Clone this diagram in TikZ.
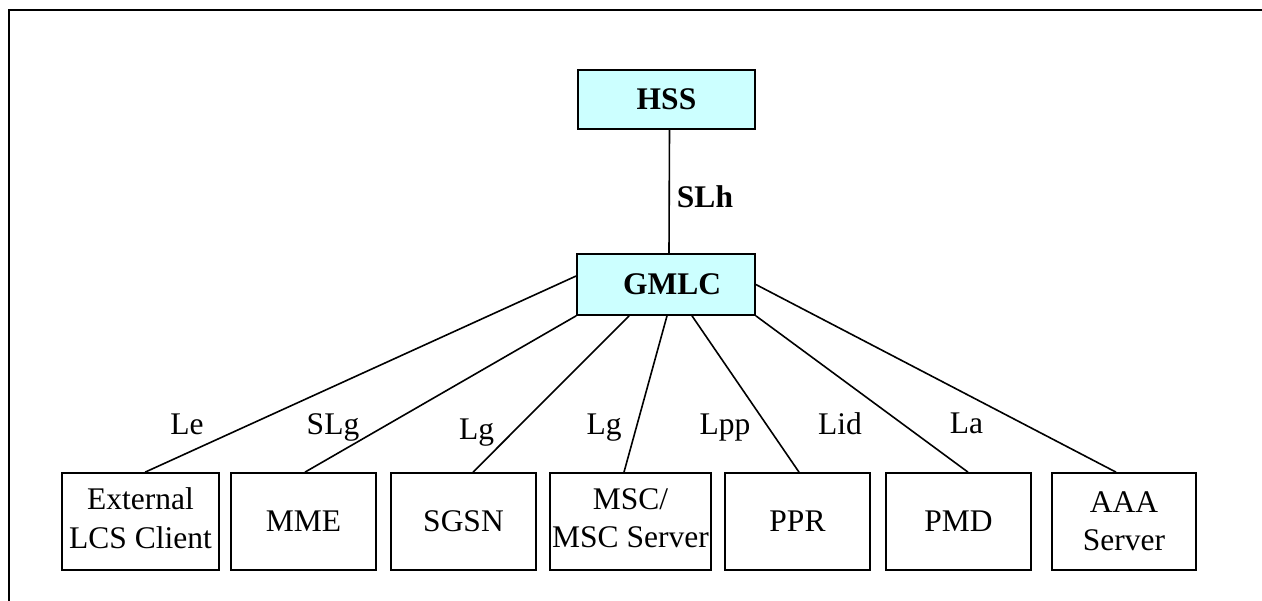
\documentclass[tikz,border=0pt]{standalone}
\usepackage{fontspec}
\setmainfont{Liberation Serif}
\definecolor{boxcyan}{HTML}{CCFFFF}
\begin{document}
\begin{tikzpicture}[x=1pt,y=-1pt,
  every node/.style={font=\fontsize{31.5}{38.5}\selectfont},
  netbox/.style={draw,line width=1.7pt,inner sep=0pt,align=center,minimum height=97pt},
  corebox/.style={draw,line width=1.7pt,inner sep=0pt,fill=boxcyan,font=\fontsize{31.5}{38}\selectfont\bfseries},
  link/.style={line width=1.6pt},
  lbl/.style={anchor=base,inner sep=0pt}]
\useasboundingbox (0,0) rectangle (1262,601);
\draw[line width=1.8pt] (9,601) -- (9,10) -- (1262,10);
\node[corebox,minimum width=177pt,minimum height=59pt] (hss) at (666.5,99.5) {HSS};
\node[corebox,minimum width=178pt,minimum height=61pt,text width=178pt,align=center] (gmlc) at (666,284.5) {\hspace*{12pt}GMLC};
\node[netbox,minimum width=157pt] (ext) at (140.5,521.5) {External\\LCS Client\vphantom{g}};
\node[netbox,minimum width=145pt] (mme) at (303.5,521.5) {MME};
\node[netbox,minimum width=145pt] (sgsn) at (463.5,521.5) {SGSN};
\node[netbox,minimum width=161pt] (msc) at (630.5,521.5) {MSC/\\MSC Server\vphantom{g}};
\node[netbox,minimum width=145pt] (ppr) at (797.5,521.5) {PPR};
\node[netbox,minimum width=145pt] (pmd) at (958.5,521.5) {PMD};
\node[netbox,minimum width=144pt] (aaa) at (1124,521.5) {AAA\\Server};
\draw[link] ([xshift=3pt]hss.south) -- ([xshift=3pt]gmlc.north);
\draw[link] ([yshift=8.5pt]gmlc.west) -- ([xshift=84pt]ext.north west);
\draw[link] (gmlc.south west) -- ([xshift=1.5pt]mme.north);
\draw[link] ([xshift=53pt]gmlc.south west) -- ([xshift=9.5pt]sgsn.north);
\draw[link] ([xshift=1pt]gmlc.south) -- ([xshift=-6.5pt]msc.north);
\draw[link] ([xshift=26pt]gmlc.south) -- ([xshift=1.5pt]ppr.north);
\draw[link] (gmlc.south east) -- ([xshift=9.5pt]pmd.north);
\draw[link] (gmlc.east) -- ([xshift=-8pt]aaa.north);
\node[lbl,font=\fontsize{31.5}{38}\selectfont\bfseries] (slh) at (705,208) {SLh};
\node[lbl] (le) at (187,435) {Le};
\node[lbl] (slg) at (333,435) {SLg};
\node[lbl] (lg1) at (476.5,440) {Lg};
\node[lbl] (lg2) at (604,435) {Lg};
\node[lbl] (lpp) at (725,435) {Lpp};
\node[lbl] (lid) at (840,435) {Lid};
\node[lbl] (la) at (966.5,434) {La};
\end{tikzpicture}
\end{document}
